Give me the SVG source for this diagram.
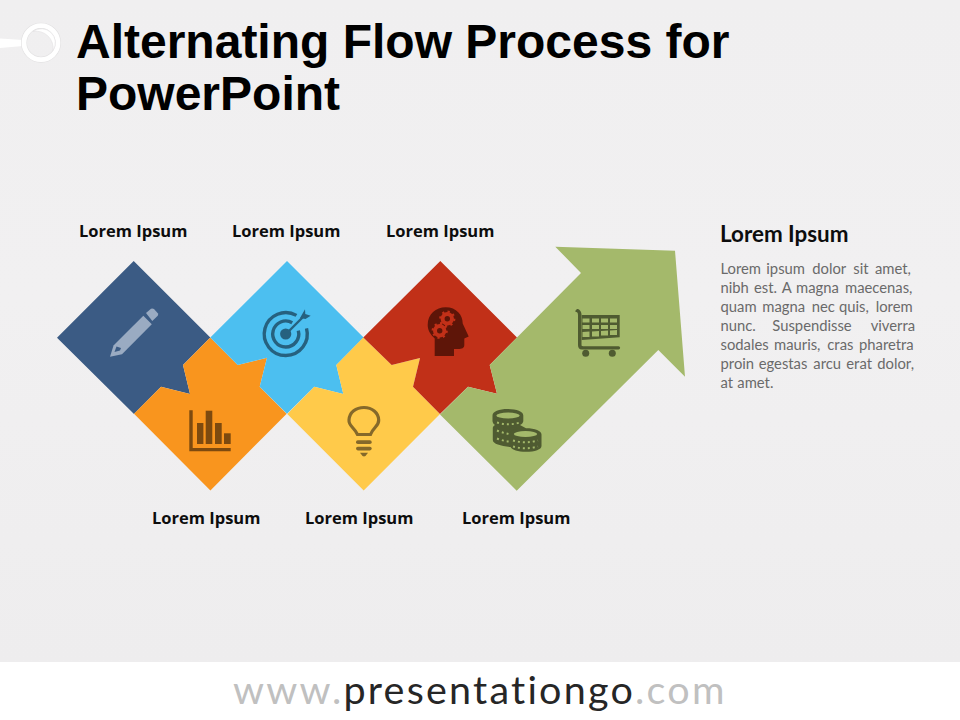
<svg xmlns="http://www.w3.org/2000/svg" width="960" height="720" viewBox="0 0 960 720">
<style>
.title{font:bold 48px "Liberation Sans",Arial,sans-serif;fill:#000}
.lab{font:bold 16.5px "Open Sans","Noto Sans",sans-serif;fill:#0d0d0d}
.lh{font:bold 22.4px Lato,"Noto Sans",sans-serif;fill:#0d0d0d}
.body{font:14.8px Lato,"Noto Sans",sans-serif;fill:#6a6a6a}
.foot{font:39.500px Lato,"Noto Sans",sans-serif;letter-spacing:2.220px}
</style>
<defs>
<linearGradient id="bg" x1="0" y1="0" x2="0" y2="1">
<stop offset="0" stop-color="#f0eff0"/><stop offset=".45" stop-color="#f1f0f1"/><stop offset="1" stop-color="#eeedee"/>
</linearGradient>
</defs>
<rect width="960" height="662" fill="url(#bg)"/>
<rect y="662" width="960" height="58" fill="#fff"/>
<g id="pin">
<path d="M0 38.500L23 40V46L0 48Z" fill="#fff"/>
<circle cx="41" cy="42.700" r="17" fill="none" stroke="#e2e1e2" stroke-width="6"/>
<circle cx="41" cy="42.700" r="17" fill="none" stroke="#fff" stroke-width="4.800"/>
<path d="M33 31.500A14 14 0 0 1 53 50.500A17 17 0 0 0 33 31.500Z" fill="#fff" stroke="#e2e1e2" stroke-width=".6"/>
</g>
<text class="title" x="76" y="58">Alternating Flow Process for</text>
<text class="title" x="76" y="110">PowerPoint</text>

<g id="node-1">
<path d="M133.700 261L210.300 337.500L183 365L190 394L161 386.700L134 414L57 337.700Z" fill="#3b5b84"/>
<g fill="#9aabc2">
<path d="M110 356.700L113.500 345.500L143.300 315.800L151.800 324.300L122 354.300Z"/>
<path d="M146 313L151 308.700Q152.500 308 154 309L158 313.500Q158.500 315 157.500 316L152.300 321Z"/>
</g>
<path d="M114.500 352L116.500 346.500L121 348L120 350.500Z" fill="#3b5b84"/>
<text class="lab" x="79" y="237">Lorem Ipsum</text>
</g>
<g id="node-2">
<path d="M210.300 337.500L237.700 365L267 357.700L259.700 386.700L286.700 413.700L210.400 490.400L134 413.800L161 386.700L190 394L183 365Z" fill="#f9951e"/>
<g fill="#7d4a0f">
<path d="M189.300 410.300H192.700V448H230.700V451.300H189.300Z"/>
<rect x="197" y="423" width="6.400" height="21"/>
<rect x="205.700" y="410.700" width="6.600" height="33.300"/>
<rect x="215" y="423" width="6.700" height="21"/>
<rect x="224" y="433.300" width="6.700" height="10.700"/>
</g>
<text class="lab" x="152" y="524">Lorem Ipsum</text>
</g>
<g id="node-3">
<path d="M287 261L363.600 337.500L336.300 365L343.300 394L314.300 386.700L287 413.700L259.700 386.700L267 357.700L237.700 365L210.300 337.500Z" fill="#4cbff0"/>
<g fill="none" stroke="#26617f">
<path d="M306.500 328.400A21.500 21.500 0 1 1 296.450 315.400" stroke-width="3.400"/>
<path d="M298.300 330.600A13 13 0 1 1 292.200 322.700" stroke-width="3.400"/>
<path d="M286 334L305 315" stroke-width="2.400"/>
</g>
<circle cx="285.700" cy="334" r="5.600" fill="#26617f"/>
<path d="M300 318L305 309.300L305.300 314L310.700 315.700L305.500 319Z" fill="#26617f"/>
<text class="lab" x="232" y="237">Lorem Ipsum</text>
</g>
<g id="node-4">
<path d="M363.300 337.500L391.700 365L420 358L413 386.700L440 414L363.700 490.400L287.300 414L314.300 386.700L343.300 394L336.300 365Z" fill="#ffca4a"/>
<path d="M357.500 434.500C354 427 348.500 426 349 420C349.500 412 356 407.500 364 407.500C372 407.500 378.500 412.500 378.700 420C379 426 373.500 427 370.500 434.500Z" fill="none" stroke="#85692a" stroke-width="3.200"/>
<g fill="#85692a">
<rect x="356" y="440.300" width="15.700" height="3.700" rx="1.800"/>
<rect x="356" y="446.700" width="15.700" height="3.700" rx="1.800"/>
<path d="M360 452.700H368L365.500 456Q364 456.800 362.500 456Z"/>
</g>
<text class="lab" x="305" y="524">Lorem Ipsum</text>
</g>
<g id="node-5">
<path d="M440.300 261L517 337.500L489.700 365L497 393.700L468 386.700L440 414L413 386.700L420 358L391.700 365L363.300 337.500Z" fill="#c13018"/>
<path d="M434.700 356V338.500C430 334 427.700 330 427.700 325C427.700 314 436 307.300 445.700 307.300C456.500 307.300 462.700 315 462.700 323.500L468.700 336.500L464.300 338.500V345C464.300 348 462 349 458 349H454V356Z" fill="#5e1508"/>
<g fill="none" stroke="#c13018">
<circle cx="447.300" cy="318.700" r="4.700" stroke-width="4"/>
<circle cx="447.300" cy="318.700" r="7" stroke-width="2.200" stroke-dasharray="2.200 3.300"/>
<circle cx="439.700" cy="330.700" r="4.700" stroke-width="4"/>
<circle cx="439.700" cy="330.700" r="7" stroke-width="2.200" stroke-dasharray="2.200 3.300"/>
</g>
<text class="lab" x="386" y="237">Lorem Ipsum</text>
</g>
<g id="node-6">
<path d="M440 414.500L468 386.700L497 393.700L489.700 365L581 273L555.300 246.700L675 250.700L685 376.700L658.300 350L516.700 490.700Z" fill="#a4b96b"/>
<g fill="#4f5b31">
<path d="M575.500 310.500L577 309C579 309 581.500 311 581.500 314.500V345C581.500 345.800 582 346.200 583 346.200H618.500A1.600 1.600 0 0 1 618.500 349.500H582C579 349.500 578 347.500 578 345V315C578 312.500 577 312 575.500 312Z"/>
<path fill-rule="evenodd" d="M581.700 315H619.700V337.300L581.700 340ZM582.500 318.500V322.500H589.500V318.500ZM592 318.500V322.500H599V318.500ZM601 318.500V322.500H608V318.500ZM610 318.500V322.500H617V318.500ZM582.500 325V329H589.500V325ZM592 325V329H599V325ZM601 325V329H608V325ZM610 325V329H617V325ZM582.500 332V337H589.500V331.500ZM592 331.500V336.500H599V331ZM601 331V335.500H608V330.500ZM610 330.500V335H617V330Z"/>
<circle cx="585.700" cy="353.300" r="3.500"/>
<circle cx="612.300" cy="353.300" r="3.500"/>
<path d="M492.500 415.500C492.500 411.500 499 409 507.800 409C516.500 409 523.300 411.500 523.300 415.500V421C523.300 422.500 522 424 520 425L526 428.300C535 428.300 541.500 431 541.500 434.500V446C541.500 449.500 535 451.800 525.800 451.800C518 451.800 512 450 510.500 447C501 446 492.800 444 492.800 440V428C492.800 426.500 494 425.500 495 425C493.500 424 492.500 422.500 492.500 421Z"/>
<ellipse cx="508" cy="415.500" rx="11.700" ry="3" fill="#a4b96b"/>
<ellipse cx="525.500" cy="434" rx="11.700" ry="3" fill="#a4b96b"/>
</g>
<path d="M510 428Q516 427.500 521 427.800Q513 429.500 509.500 432.500Q509 430 510 428Z" fill="#4f5b31"/>
<g fill="none" stroke="#a4b96b" stroke-width="1.900" stroke-dasharray="2 3">
<path d="M497 422.500Q508 426 520 422.500"/>
<path d="M497 430.500Q503 433 509 434"/>
<path d="M497 438.500Q503 441 509 441.500"/>
<path d="M513 440.500Q525 444 538 440.500"/>
<path d="M513 446.500Q525 450 538 446.500"/>
</g>
<text class="lab" x="462" y="524">Lorem Ipsum</text>
</g>
<g id="description">
<text class="lh" x="720" y="242">Lorem Ipsum</text>
<text class="body" y="273.500"><tspan x="720.500">Lorem</tspan><tspan x="766.300">ipsum</tspan><tspan x="812.300">dolor</tspan><tspan x="853.300">sit</tspan><tspan x="875">amet,</tspan></text>
<text class="body" y="292.600"><tspan x="720.500">nibh</tspan><tspan x="754">est.</tspan><tspan x="781.700">A</tspan><tspan x="796">magna</tspan><tspan x="845">maecenas,</tspan></text>
<text class="body" y="311.700"><tspan x="720.500">quam</tspan><tspan x="762.300">magna</tspan><tspan x="811.700">nec</tspan><tspan x="839">quis,</tspan><tspan x="875.700">lorem</tspan></text>
<text class="body" y="330.800"><tspan x="720.500">nunc.</tspan><tspan x="772.300">Suspendisse</tspan><tspan x="870.700">viverra</tspan></text>
<text class="body" y="349.900"><tspan x="720.500">sodales</tspan><tspan x="774">mauris,</tspan><tspan x="827.300">cras</tspan><tspan x="859">pharetra</tspan></text>
<text class="body" y="369"><tspan x="720.500">proin</tspan><tspan x="758.700">egestas</tspan><tspan x="813.300">arcu</tspan><tspan x="846.300">erat</tspan><tspan x="877.300">dolor,</tspan></text>
<text class="body" y="388.100"><tspan x="720.500">at</tspan><tspan x="737.300">amet.</tspan></text>
</g>
<text class="foot" x="233" y="704"><tspan fill="#c0c0c0">www.</tspan><tspan fill="#262626">presentationgo</tspan><tspan fill="#c0c0c0">.com</tspan></text>
</svg>
